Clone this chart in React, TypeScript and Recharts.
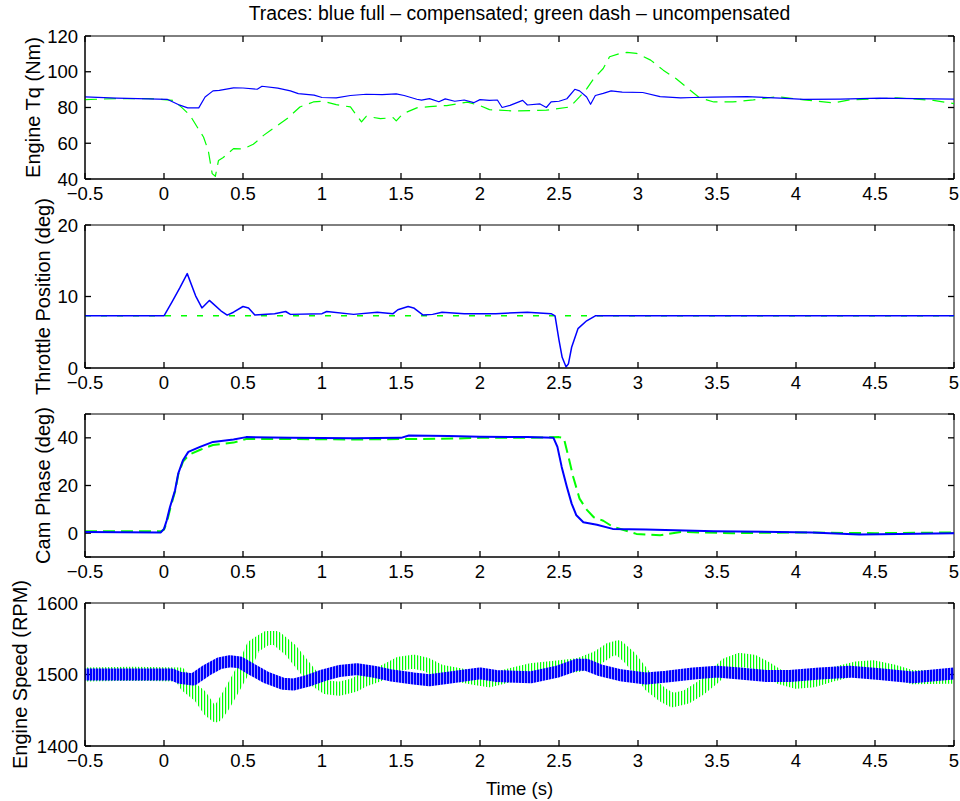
import React from "react";
import { LineChart, Line, XAxis, YAxis, CartesianGrid, ReferenceArea } from "recharts";

const X_TICKS = [-0.5, 0, 0.5, 1, 1.5, 2, 2.5, 3, 3.5, 4, 4.5, 5];
const TQ_TICKS = [40, 60, 80, 100, 120];
const THR_TICKS = [0, 10, 20];
const CAM_TICKS = [0, 20, 40];
const RPM_TICKS = [1400, 1500, 1600];

const TITLE = "Traces: blue full – compensated; green dash – uncompensated";

// Engine Tq (Nm)
const TQ_COMP_T = [-0.5, -0.3, -0.1, 0.02, 0.1, 0.15, 0.22, 0.26, 0.31, 0.35, 0.44, 0.5, 0.59, 0.62, 0.72, 0.8, 0.85, 0.95, 1.0, 1.09, 1.18, 1.28, 1.38, 1.47, 1.52, 1.6, 1.63, 1.68, 1.74, 1.78, 1.84, 1.9, 1.96, 2.0, 2.06, 2.11, 2.14, 2.19, 2.27, 2.3, 2.38, 2.42, 2.45, 2.5, 2.55, 2.6, 2.63, 2.675, 2.7, 2.73, 2.78, 2.83, 2.9, 3.03, 3.14, 3.27, 3.35, 3.47, 3.69, 3.9, 4.05, 4.28, 4.53, 4.75, 5.0];
const TQ_COMP = [85.9, 85.3, 84.8, 84.6, 81.3, 79.8, 79.8, 85.9, 89.3, 89.6, 91, 90.9, 90.2, 91.9, 90.8, 89.3, 87.8, 86.9, 85.6, 85.4, 86.7, 87.4, 87.2, 87.6, 86.7, 84.6, 84.1, 85, 83.2, 84.8, 83.5, 84.2, 82.7, 84.4, 84, 84.2, 80, 81.2, 84, 81.4, 82, 80, 83.2, 83.5, 84.9, 90.2, 89.3, 85.9, 81.8, 86.7, 87.9, 89.3, 88.6, 88.4, 86.1, 85.4, 85.6, 85.8, 86.1, 85.2, 84.5, 84.7, 85.2, 85, 84.7];
const TQ_UNCOMP_T = [-0.5, -0.3, -0.1, 0.06, 0.11, 0.165, 0.21, 0.25, 0.28, 0.305, 0.325, 0.345, 0.375, 0.44, 0.5, 0.565, 0.63, 0.69, 0.78, 0.86, 0.945, 1.01, 1.09, 1.18, 1.25, 1.28, 1.37, 1.45, 1.47, 1.51, 1.6, 1.68, 1.79, 1.92, 2.0, 2.06, 2.21, 2.42, 2.57, 2.63, 2.675, 2.72, 2.78, 2.82, 2.89, 2.93, 2.99, 3.08, 3.16, 3.24, 3.32, 3.39, 3.48, 3.6, 3.73, 3.88, 4.05, 4.24, 4.34, 4.64, 4.87, 5.0];
const TQ_UNCOMP = [84.4, 85, 85, 84, 80.2, 75.6, 69.1, 63.5, 56, 43, 41.5, 50.4, 52, 57, 56.8, 59.4, 64.4, 68.2, 73.8, 80.3, 83.1, 83.5, 81.6, 80.3, 71.9, 75.1, 73.8, 74.3, 72.5, 76.4, 79.8, 80.5, 81.1, 83, 81.1, 78.8, 78.1, 78.5, 80.3, 85.9, 90.4, 96.2, 101.8, 108.4, 110.3, 110.8, 110.3, 106.5, 100.9, 96.2, 90.4, 85.4, 83.1, 83.1, 84.3, 86.1, 84.3, 82.6, 84.3, 85.4, 84, 82.2];

// Throttle Position (deg)
const THR_COMP_T = [-0.5, 0.0, 0.05, 0.1, 0.147, 0.2, 0.24, 0.287, 0.31, 0.36, 0.4, 0.44, 0.5, 0.535, 0.575, 0.7, 0.77, 0.8, 1.0, 1.03, 1.2, 1.35, 1.45, 1.48, 1.545, 1.58, 1.64, 1.7, 1.76, 1.9, 2.1, 2.3, 2.45, 2.475, 2.5, 2.52, 2.545, 2.56, 2.58, 2.62, 2.675, 2.73, 5.0];
const THR_COMP = [7.3, 7.3, 9.2, 11.2, 13.2, 10.1, 8.4, 9.45, 9.0, 8.0, 7.4, 7.8, 8.6, 8.4, 7.4, 7.6, 7.9, 7.5, 7.6, 7.9, 7.5, 7.8, 7.6, 8.15, 8.6, 8.4, 7.4, 7.5, 7.8, 7.6, 7.6, 7.8, 7.6, 7.3, 3.9, 1.5, 0.15, 0.6, 2.9, 5.5, 6.6, 7.3, 7.3];
const THR_UNCOMP_T = [-0.5, 5.0];
const THR_UNCOMP = [7.3, 7.3];

// Cam Phase (deg)
const CAM_COMP_T = [-0.5, -0.02, 0.0, 0.017, 0.038, 0.07, 0.09, 0.12, 0.154, 0.228, 0.31, 0.44, 0.52, 0.8, 1.2, 1.5, 1.55, 1.8, 2.0, 2.3, 2.465, 2.49, 2.517, 2.55, 2.58, 2.61, 2.654, 2.74, 2.84, 3.05, 3.48, 4.1, 4.4, 4.53, 5.0];
const CAM_COMP = [0.5, 0.3, 1.8, 5.3, 11, 18, 25, 30.6, 34.1, 36.2, 38.3, 39.3, 40.3, 40, 39.8, 40, 41, 40.8, 40.5, 40.3, 40, 36.2, 27.8, 19.4, 12.4, 7.5, 4.6, 3.5, 1.8, 1.5, 0.8, 0.3, -0.6, -0.5, 0];
const CAM_UNCOMP_T = [-0.5, -0.02, 0.0, 0.02, 0.04, 0.07, 0.09, 0.12, 0.16, 0.23, 0.31, 0.44, 0.52, 0.8, 1.2, 1.5, 1.6, 1.9, 2.0, 2.3, 2.5, 2.53, 2.56, 2.59, 2.63, 2.675, 2.72, 2.78, 2.84, 2.99, 3.14, 3.27, 3.6, 4.0, 4.5, 5.0];
const CAM_UNCOMP = [0.8, 0.8, 1.5, 5, 10.5, 17.5, 24.5, 30, 33, 35, 37, 38, 39.5, 39.5, 39.3, 39.5, 39.5, 39.8, 40, 40, 40.3, 40, 32, 23.6, 14.5, 9.9, 6.7, 5.2, 2.7, -0.3, -0.9, 0.5, 0, 0.3, 0, 0.3];

// Engine Speed (RPM)
const RPM_COMP_T = [-0.5, -0.2, 0.05, 0.1, 0.185, 0.27, 0.354, 0.418, 0.48, 0.565, 0.65, 0.755, 0.82, 0.9, 1.01, 1.11, 1.22, 1.325, 1.43, 1.58, 1.68, 1.81, 2.0, 2.1, 2.32, 2.49, 2.61, 2.675, 2.76, 2.89, 3.05, 3.18, 3.35, 3.5, 3.645, 3.81, 3.96, 4.15, 4.34, 4.53, 4.74, 5.0];
const RPM_COMP = [1500, 1500, 1500, 1495.5, 1493, 1506, 1516, 1518.5, 1517, 1506, 1495.5, 1487, 1486, 1490.5, 1499, 1505, 1507.5, 1504, 1499, 1494.5, 1492, 1495.7, 1501.5, 1498, 1496, 1504, 1513.5, 1513.5, 1506, 1499, 1494.5, 1497, 1501.5, 1504, 1501.5, 1498, 1498, 1501.5, 1504, 1500.5, 1496, 1501.5];
const RPM_UNCOMP_T = [-0.5, -0.2, 0.1, 0.143, 0.228, 0.29, 0.33, 0.375, 0.44, 0.5, 0.565, 0.65, 0.71, 0.8, 0.86, 0.945, 1.03, 1.11, 1.2, 1.26, 1.35, 1.43, 1.49, 1.58, 1.66, 1.75, 1.87, 1.98, 2.06, 2.17, 2.32, 2.49, 2.63, 2.74, 2.82, 2.875, 2.95, 3.01, 3.08, 3.16, 3.22, 3.31, 3.39, 3.48, 3.56, 3.645, 3.73, 3.81, 3.9, 4.0, 4.11, 4.24, 4.38, 4.49, 4.62, 4.74, 4.95, 5.0];
const RPM_UNCOMP = [1500, 1501, 1500, 1485, 1470, 1450, 1443, 1457, 1482, 1506, 1539, 1551, 1551, 1534.5, 1518, 1494.5, 1482, 1480, 1485, 1492, 1499, 1508, 1515, 1518, 1514, 1504, 1499, 1494.5, 1492, 1498, 1506, 1510, 1513.5, 1523, 1534.5, 1538, 1523, 1506, 1485, 1471, 1464, 1469, 1480, 1496, 1513.5, 1520.5, 1518, 1508.5, 1496, 1490, 1492, 1500.5, 1508.5, 1510, 1504, 1496, 1497, 1497];

const pts = (ts: number[], vs: number[]) => ts.map((t, i) => ({ t, v: vs[i] }));

const FONT = "'Liberation Sans', Arial, Helvetica, sans-serif";
const PLOT_H = 143;
const TICK_FS = 18.5;
const TICK_LEN = 6;
const fmtX = (v: number) => String(v).replace("-", "\u2212");

const BottomTick = (p: any) => (
  <text x={p.x} y={p.y} dy="0.71em" textAnchor="middle" fontSize={TICK_FS} fill="#000">{fmtX(p.payload.value)}</text>
);
const LeftTick = (p: any) => (
  <text x={p.x} y={p.y} dy="0.355em" textAnchor="end" fontSize={TICK_FS} fill="#000">{p.payload.value}</text>
);

// MATLAB-style inward tick marks, drawn at the grid positions on both sides of the box
const VTicks = (p: any) => (
  <g key={p.key}>
    <line x1={p.x1} x2={p.x1} y1={p.y1} y2={p.y1 + TICK_LEN} stroke="#000" strokeWidth={1.3} />
    <line x1={p.x1} x2={p.x1} y1={p.y2} y2={p.y2 - TICK_LEN} stroke="#000" strokeWidth={1.3} />
  </g>
);
const HTicks = (p: any) => (
  <g key={p.key}>
    <line x1={p.x1} x2={p.x1 + TICK_LEN} y1={p.y1} y2={p.y1} stroke="#000" strokeWidth={1.3} />
    <line x1={p.x2} x2={p.x2 - TICK_LEN} y1={p.y1} y2={p.y1} stroke="#000" strokeWidth={1.3} />
  </g>
);

type Trace = { data: { t: number; v: number }[]; color: string; width: number; dash?: string; opacity?: number };

function Panel({ top, domain, ticks, label, labelX, traces }: {
  top: number; domain: [number, number]; ticks: number[]; label: string; labelX: number; traces: Trace[];
}) {
  const cy = 5 + PLOT_H / 2;
  return (
    <div style={{ position: "absolute", left: 0, top: top - 5 }}>
      <LineChart width={960} height={5 + PLOT_H + 30} margin={{ top: 5, right: 6, bottom: 0, left: 0 }}>
        <CartesianGrid vertical={VTicks} horizontal={HTicks} />
        <XAxis type="number" dataKey="t" domain={[-0.5, 5]} ticks={X_TICKS} allowDataOverflow
          height={30} stroke="#000" tickLine={false} tickSize={0} tickMargin={8} tick={BottomTick} interval={0} />
        <YAxis type="number" domain={domain} ticks={ticks} allowDataOverflow width={85}
          stroke="#000" tickLine={false} tickSize={0} tickMargin={7} tick={LeftTick} interval={0}
          label={() => (
            <text x={labelX} y={cy} transform={`rotate(-90 ${labelX} ${cy})`} textAnchor="middle"
              fontSize={20} fill="#000">{label}</text>
          )} />
        <ReferenceArea x1={-0.5} x2={5} y1={domain[0]} y2={domain[1]} fill="none" fillOpacity={0}
          stroke="#000" strokeWidth={1} ifOverflow="visible" />
        {traces.map((tr, i) => (
          <Line key={i} data={tr.data} dataKey="v" type="linear" dot={false}
            stroke={tr.color} strokeWidth={tr.width} strokeDasharray={tr.dash} strokeOpacity={tr.opacity ?? 1}
            strokeLinejoin="round" isAnimationActive={false} />
        ))}
      </LineChart>
    </div>
  );
}

export default function App() {
  return (
    <div style={{ position: "fixed", left: 0, top: 0, width: 960, height: 801, background: "#fff", fontFamily: FONT }}>
      <style>{`.recharts-surface{overflow:visible}`}</style>
      <svg width={960} height={801} style={{ position: "absolute", left: 0, top: 0 }}>
        <defs>
          {/* striped strokes to mimic the dense high-frequency ripple of the speed traces */}
          <pattern id="ripB" patternUnits="userSpaceOnUse" width={3} height={6}>
            <rect x={0} y={0} width={2.4} height={6} fill="#0000ff" />
          </pattern>
          <pattern id="ripG" patternUnits="userSpaceOnUse" width={3} height={6}>
            <rect x={0} y={0} width={1.2} height={6} fill="#00ff00" />
          </pattern>
        </defs>
        <text x={519.5} y={19.5} textAnchor="middle" fontSize={19.4} fill="#000" fontFamily={FONT}>{TITLE}</text>
        <text x={519.5} y={795} textAnchor="middle" fontSize={18.5} fill="#000" fontFamily={FONT}>Time (s)</text>
      </svg>
      <Panel top={36} domain={[40, 120]} ticks={TQ_TICKS} label="Engine Tq (Nm)" labelX={39.5} traces={[
        { data: pts(TQ_UNCOMP_T, TQ_UNCOMP), color: "#00ff00", width: 1.2, dash: "12 7" },
        { data: pts(TQ_COMP_T, TQ_COMP), color: "#0000ff", width: 1.2 },
      ]} />
      <Panel top={225} domain={[0, 20]} ticks={THR_TICKS} label="Throttle Position (deg)" labelX={49.5} traces={[
        { data: pts(THR_UNCOMP_T, THR_UNCOMP), color: "#00ff00", width: 1.5, dash: "6 10" },
        { data: pts(THR_COMP_T, THR_COMP), color: "#0000ff", width: 1.5 },
      ]} />
      <Panel top={414} domain={[-10, 50]} ticks={CAM_TICKS} label="Cam Phase (deg)" labelX={49.5} traces={[
        { data: pts(CAM_UNCOMP_T, CAM_UNCOMP), color: "#00ff00", width: 2, dash: "12 6" },
        { data: pts(CAM_COMP_T, CAM_COMP), color: "#0000ff", width: 2 },
      ]} />
      <Panel top={603} domain={[1400, 1600]} ticks={RPM_TICKS} label="Engine Speed (RPM)" labelX={26.5} traces={[
        { data: pts(RPM_UNCOMP_T, RPM_UNCOMP), color: "url(#ripG)", width: 14 },
        { data: pts(RPM_COMP_T, RPM_COMP), color: "url(#ripB)", width: 12 },
      ]} />
    </div>
  );
}
